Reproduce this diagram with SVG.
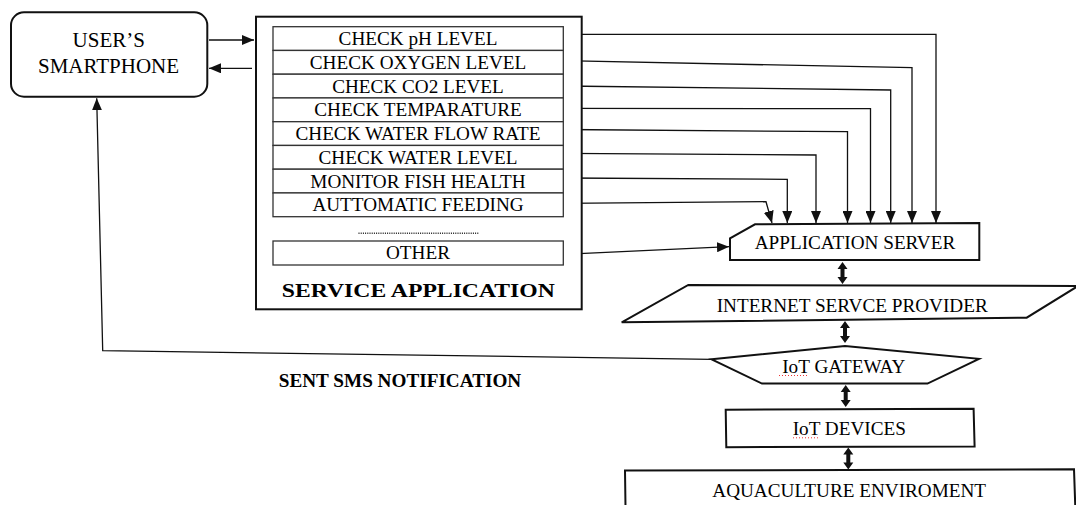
<svg xmlns="http://www.w3.org/2000/svg" width="1076" height="505" viewBox="0 0 1076 505" font-family="Liberation Serif, serif">
  <style>
    text { font-family: "Liberation Serif", "Times New Roman", serif; }
    .t { font-size: 19.2px; fill: #000; text-anchor: middle; }
    .big { font-size: 21px; }
    .bold { font-weight: bold; }
    .frame { fill: #fff; stroke: #111; stroke-width: 2; }
    .item { fill: #fff; stroke: #333; stroke-width: 1.3; }
    .wire-end { fill: none; stroke: #111; stroke-width: 1.3; marker-end: url(#head); }
    .spell { fill: none; stroke: #e33; stroke-width: 1; stroke-dasharray: 1 2; }
  </style>
  <defs>
    <marker id="head" viewBox="0 0 12 10" refX="12" refY="5" markerWidth="12" markerHeight="10" markerUnits="userSpaceOnUse" orient="auto">
      <path d="M0,0 L12,5 L0,10 z" fill="#111"/>
    </marker>
    <!-- thick two-way link between stacked layers, 22px tall -->
    <path id="twoway" d="M0,0 L5,7 L2,7 L2,15 L5,15 L0,22 L-5,15 L-2,15 L-2,7 L-5,7 z" fill="#111"/>
  </defs>

  <rect width="1076" height="505" fill="#fff"/>

  <!-- connectors -->
  <g id="connectors">
    <!-- smartphone <-> service application -->
    <line class="wire-end" x1="209" y1="40" x2="254" y2="40"/>
    <line class="wire-end" x1="252" y1="68.3" x2="209" y2="68.3"/>

    <!-- services -> application server -->
    <polyline class="wire-end" points="563,34.3 936,34.3 936,223"/>
    <polyline class="wire-end" points="563,60.7 912,67.7 912,223"/>
    <polyline class="wire-end" points="563,86 890.7,90 890.7,223"/>
    <polyline class="wire-end" points="563,108.3 870.5,108.7 870.5,223"/>
    <polyline class="wire-end" points="563,129.5 847.5,131.7 847.5,223"/>
    <polyline class="wire-end" points="563,153.3 816,155 816,223"/>
    <polyline class="wire-end" points="563,178 787.3,179.3 787.3,223"/>
    <polyline class="wire-end" points="563,203.3 766,201.7 772,223"/>
    <line class="wire-end" x1="563" y1="254.3" x2="729" y2="246.7"/>

    <!-- SMS notification from gateway back to the phone -->
    <polyline class="wire-end" points="711.7,359.3 102.7,350.7 96.7,98.3"/>

    <!-- layer stack links -->
    <use href="#twoway" x="842.5" y="262"/>
    <use href="#twoway" x="845" y="321"/>
    <use href="#twoway" x="845.7" y="385"/>
    <use href="#twoway" x="848.3" y="447.5"/>
  </g>

  <g id="smartphone">
    <rect class="frame" x="11" y="12.3" width="196.3" height="84.4" rx="13" ry="13"/>
    <text class="t big" x="108.8" y="46.7">USER’S</text>
    <text class="t big" x="108.5" y="72.7">SMARTPHONE</text>
  </g>

  <g id="service-application">
    <rect class="frame" x="256" y="16.7" width="325.7" height="292.6"/>
    <g id="services">
      <rect class="item" x="273" y="26.7" width="290.3" height="23.75"/>
      <rect class="item" x="273" y="50.45" width="290.3" height="23.75"/>
      <rect class="item" x="273" y="74.2" width="290.3" height="23.75"/>
      <rect class="item" x="273" y="97.95" width="290.3" height="23.75"/>
      <rect class="item" x="273" y="121.7" width="290.3" height="23.75"/>
      <rect class="item" x="273" y="145.45" width="290.3" height="23.75"/>
      <rect class="item" x="273" y="169.2" width="290.3" height="23.75"/>
      <rect class="item" x="273" y="192.95" width="290.3" height="23.75"/>
      <text class="t" x="418" y="45">CHECK pH LEVEL</text>
      <text class="t" x="418" y="68.8">CHECK OXYGEN LEVEL</text>
      <text class="t" x="418" y="92.5">CHECK CO2 LEVEL</text>
      <text class="t" x="418" y="116.3">CHECK TEMPARATURE</text>
      <text class="t" x="418" y="140.3">CHECK WATER FLOW RATE</text>
      <text class="t" x="418" y="163.8">CHECK WATER LEVEL</text>
      <text class="t" x="418" y="187.5">MONITOR FISH HEALTH</text>
      <text class="t" x="418" y="211.2">AUTTOMATIC FEEDING</text>
      <line x1="358.5" y1="233.3" x2="479" y2="233.3" stroke="#222" stroke-width="1.4" stroke-dasharray="1 1.2"/>
      <rect class="item" x="273" y="241" width="290.3" height="24"/>
      <text class="t" x="418" y="259.4">OTHER</text>
    </g>
    <text class="t bold" x="418.3" y="296.7" font-size="22" textLength="273" lengthAdjust="spacingAndGlyphs">SERVICE APPLICATION</text>
  </g>

  <g id="application-server">
    <path class="frame" d="M755,224.3 L979.3,223 L979.3,260 L730,260 L730,238.3 z"/>
    <text class="t" x="855" y="249.3">APPLICATION SERVER</text>
  </g>

  <g id="internet-service-provider">
    <path class="frame" d="M688.3,285 L1078,286 L1026.7,317.7 L621.7,322.3 z"/>
    <text class="t" x="852.2" y="311.7">INTERNET SERVCE PROVIDER</text>
  </g>

  <g id="iot-gateway">
    <path class="frame" d="M711.7,359.3 L845,346 L979,358.8 L927.5,383.6 L762,383.6 z"/>
    <text class="t" x="843.8" y="372.7">IoT GATEWAY</text>
    <line class="spell" x1="779" y1="375.5" x2="807" y2="375.5"/>
  </g>

  <g id="iot-devices">
    <path class="frame" d="M725.7,409.7 L973.6,408.7 L974.6,446.4 L726.3,447.2 z"/>
    <text class="t" x="849.3" y="435">IoT DEVICES</text>
    <line class="spell" x1="793" y1="437.8" x2="820" y2="437.8"/>
  </g>

  <g id="aquaculture-environment">
    <path class="frame" d="M625.5,507 L625,470.6 L1074,469.3 L1075.3,507"/>
    <text class="t" x="849.2" y="496.7">AQUACULTURE ENVIROMENT</text>
  </g>

  <g id="sms-label">
    <text class="t bold" x="400" y="387.3" font-size="19">SENT SMS NOTIFICATION</text>
  </g>
</svg>
